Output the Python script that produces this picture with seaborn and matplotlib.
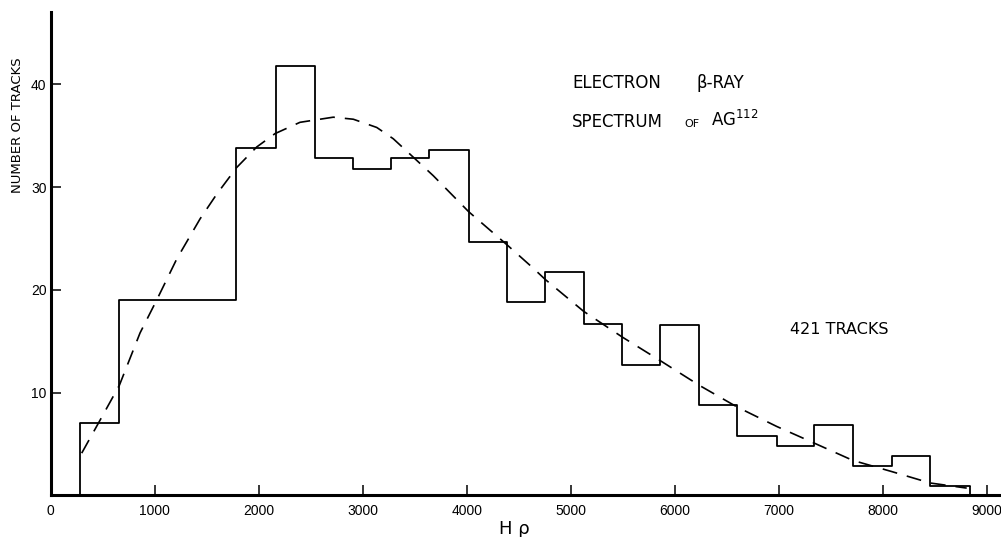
import numpy as np
import pandas as pd
import matplotlib
matplotlib.use("Agg")
import matplotlib.pyplot as plt
import seaborn as sns

# ---- data ----
bin_edges = [282, 660, 1785, 2163, 2541, 2904, 3269, 3640, 4019, 4385, 4756,
             5125, 5496, 5862, 6237, 6599, 6981, 7337, 7712, 8090, 8455, 8840]
track_counts = [7.0, 19.0, 33.8, 41.8, 32.8, 31.8, 32.8, 33.6, 24.7, 18.8,
                21.7, 16.7, 12.7, 16.6, 8.8, 5.8, 4.8, 6.8, 2.9, 3.8, 0.9]

curve_hrho = [298, 474, 660, 859, 1019, 1212, 1436, 1596, 1788, 1981, 2157,
              2397, 2717, 2910, 3135, 3294, 3487, 3679, 4019, 4385, 4640,
              4756, 5125, 5496, 5862, 6237, 6599, 6981, 7337, 7712, 8090,
              8455, 8808]
curve_counts = [4.1, 7.3, 10.7, 15.8, 19.0, 23.0, 26.9, 29.3, 31.9, 33.9, 35.2,
                36.3, 36.8, 36.6, 35.8, 34.7, 32.9, 31.1, 27.6, 24.4, 22.1,
                21.0, 17.9, 15.4, 13.1, 10.7, 8.6, 6.7, 5.1, 3.4, 2.3,
                1.2, 0.7]

x_ticks = [0, 1000, 2000, 3000, 4000, 5000, 6000, 7000, 8000, 9000]
y_ticks = [10, 20, 30, 40]

# ---- figure ----
sns.set_theme(style="ticks")
plt.rcParams["font.family"] = ["DejaVu Sans"]
plt.rcParams["mathtext.default"] = "regular"
plt.rcParams["text.color"] = "black"
plt.rcParams["xtick.color"] = "black"
plt.rcParams["ytick.color"] = "black"
plt.rcParams["xtick.labelcolor"] = "black"
plt.rcParams["ytick.labelcolor"] = "black"

W, H = 1001, 537
fig = plt.figure(figsize=(W / 100, H / 100), dpi=100)
ax_left = 50.7 / W
ax_bottom = (H - 495.3) / H
ax_top = (H - 12.3) / H
ax = fig.add_axes([ax_left, ax_bottom, 1.0 - ax_left, ax_top - ax_bottom])

edges = np.array(bin_edges, dtype=float)
centers = (edges[:-1] + edges[1:]) / 2
hist_df = pd.DataFrame({"hrho": centers, "count": track_counts})

sns.histplot(data=hist_df, x="hrho", weights="count", bins=bin_edges,
             element="step", fill=False, color="black", linewidth=1.3, ax=ax)
# closing verticals of the outline down to the baseline
ax.vlines([bin_edges[0], bin_edges[-1]], 0,
          [track_counts[0], track_counts[-1]], color="black", linewidth=1.3)

curve_df = pd.DataFrame({"hrho": curve_hrho, "count": curve_counts})
sns.lineplot(data=curve_df, x="hrho", y="count", color="black",
             linewidth=1.2, ax=ax, dashes=False)
ax.lines[-1].set_dashes([9, 6])

ax.set_xlim(0, (W - 50.7) / 0.104)
ax.set_ylim(0, (495.3 - 12.3) / 10.275)
ax.set_xticks(x_ticks)
ax.set_yticks(y_ticks)
ax.set_xticklabels([str(t) for t in x_ticks], family="Liberation Sans",
                   fontsize=10, color="black")
ax.set_yticklabels([str(t) for t in y_ticks], family="Liberation Sans",
                   fontsize=10, color="black")
ax.tick_params(axis="both", direction="in", length=7, width=1.1, color="black")
ax.tick_params(axis="x", pad=6)
ax.tick_params(axis="y", pad=3)
ax.set_xlabel("")
ax.set_ylabel("")

sns.despine(ax=ax, top=True, right=True)
for side in ("left", "bottom"):
    ax.spines[side].set_linewidth(2.2)
    ax.spines[side].set_color("black")
ax.set_facecolor("white")
fig.patch.set_facecolor("white")

# ---- texts ----
def fx(px):
    return px / W

def fy(py):
    return 1 - py / H

fig.text(fx(18), fy(125), "NUMBER OF TRACKS", rotation=90, ha="center",
         va="center", fontsize=9.5, color="black")
fig.text(fx(514), fy(529), "H ρ", ha="center", va="center", fontsize=13,
         color="black")

fig.text(fx(572), fy(83), "ELECTRON", ha="left", va="center", fontsize=12,
         color="black")
fig.text(fx(697), fy(83), "β-RAY", ha="left", va="center", fontsize=12,
         color="black")
fig.text(fx(572), fy(122), "SPECTRUM", ha="left", va="center", fontsize=12,
         color="black")
fig.text(fx(684), fy(124), "OF", ha="left", va="center", fontsize=8,
         color="black")
fig.text(fx(711), fy(120), "AG$^{112}$", ha="left", va="center", fontsize=12,
         color="black")
fig.text(fx(790), fy(329), "421 TRACKS", ha="left", va="center", fontsize=11.5,
         color="black")

fig.savefig("out.png", dpi=100, facecolor="white")
